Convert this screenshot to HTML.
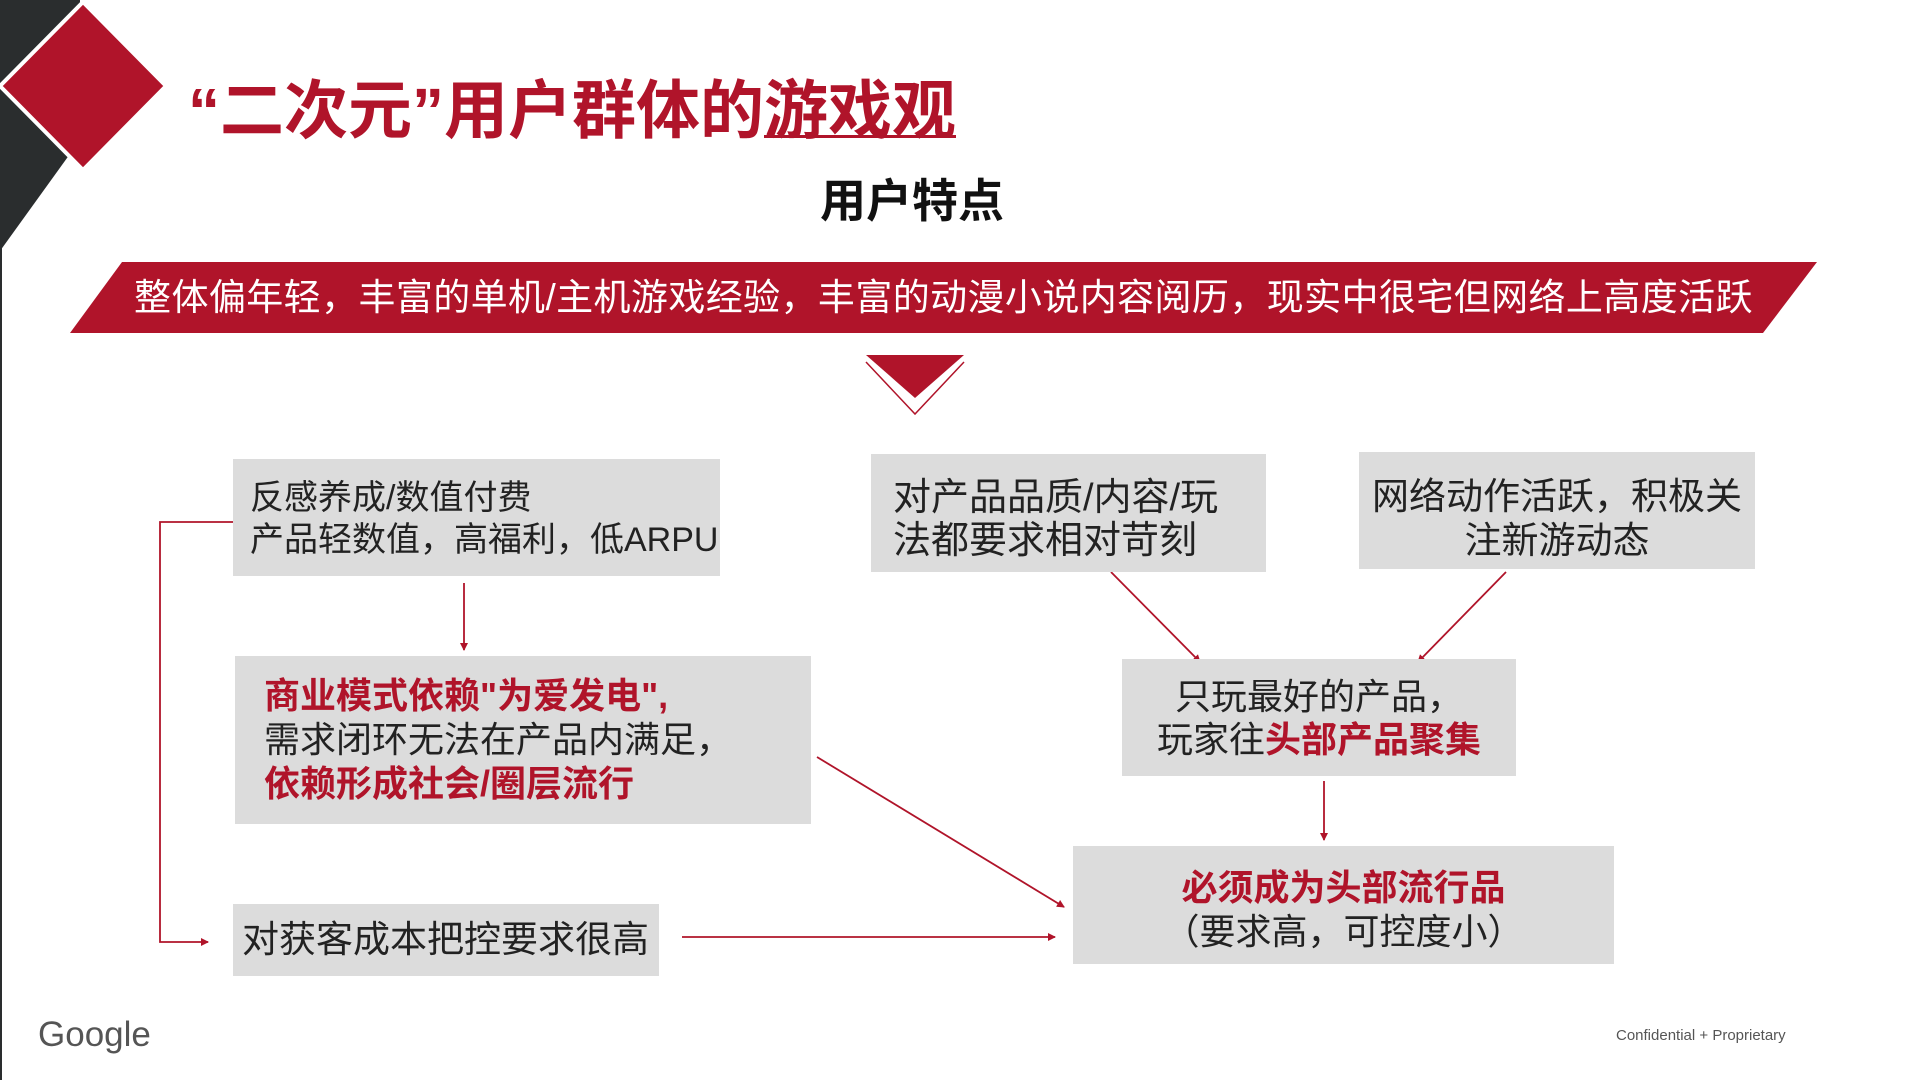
<!DOCTYPE html>
<html><head><meta charset="utf-8"><style>
html,body{margin:0;padding:0}
body{width:1920px;height:1080px;position:relative;overflow:hidden;background:#fff;font-family:"Liberation Sans","Noto Sans CJK SC",sans-serif}
.t{position:absolute;white-space:nowrap}
.box{position:absolute;background:#dcdcdc}
.r{color:#b0142a;font-weight:bold}
</style></head><body>
<svg width="1920" height="1080" style="position:absolute;left:0;top:0">
<defs><marker id="a" markerWidth="8" markerHeight="8" refX="7" refY="4" orient="auto" markerUnits="userSpaceOnUse"><path d="M0,0 L8,4 L0,8z" fill="#b0142a"/></marker></defs>
<rect x="0" y="0" width="2" height="1080" fill="#2a2d2e"/>
<polygon points="0,0 80,0 80,140 0,251" fill="#2a2d2e"/>
<polygon points="0,86 83,2 166,86 83,170" fill="#b0142a" stroke="#fff" stroke-width="4"/>
<polygon points="122,262 1817,262 1763,333 70,333" fill="#b0142a"/>
<polygon points="866,355 964,355 915,398" fill="#b0142a"/>
<polyline points="866,362 915,414 964,362" fill="none" stroke="#b0142a" stroke-width="1.5"/>
<g stroke="#b0142a" stroke-width="1.8" fill="none" marker-end="url(#a)">
<line x1="464" y1="583" x2="464" y2="650"/>
<line x1="1111" y1="572" x2="1200" y2="662"/>
<line x1="1506" y1="572" x2="1418" y2="662"/>
<line x1="1324" y1="781" x2="1324" y2="840"/>
<line x1="817" y1="757" x2="1064" y2="907"/>
<line x1="682" y1="937" x2="1055" y2="937"/>
<polyline points="233,522 160,522 160,942 208,942"/>
</g>
</svg>
<div class="t" style="left:188px;top:72px;font-size:64px;font-weight:bold;color:#b0142a;line-height:78px">“二次元”用户群体的<span style="text-decoration:underline;text-decoration-thickness:3px">游戏观</span></div>
<div class="t" style="left:820px;top:173px;font-size:46px;font-weight:bold;color:#111;line-height:56px">用户特点</div>
<div class="t" style="left:70px;width:1747px;text-align:center;top:275px;font-size:37px;letter-spacing:0.4px;color:#fff;line-height:46px">整体偏年轻，丰富的单机/主机游戏经验，丰富的动漫小说内容阅历，现实中很宅但网络上高度活跃</div>

<div class="box" style="left:233px;top:459px;width:487px;height:117px"></div>
<div class="t" style="left:250px;top:477px;font-size:34px;line-height:42px;color:#222">反感养成/数值付费<br>产品轻数值，高福利，低ARPU</div>

<div class="box" style="left:871px;top:454px;width:395px;height:118px"></div>
<div class="t" style="left:893px;top:477px;font-size:38px;line-height:43px;color:#222">对产品品质/内容/玩<br>法都要求相对苛刻</div>

<div class="box" style="left:1359px;top:452px;width:396px;height:117px"></div>
<div class="t" style="left:1359px;width:396px;text-align:center;top:475px;font-size:37px;line-height:44px;color:#222">网络动作活跃，积极关<br>注新游动态</div>

<div class="box" style="left:235px;top:656px;width:576px;height:168px"></div>
<div class="t" style="left:264px;top:674px;font-size:36px;line-height:44px;color:#222"><span class="r">商业模式依赖"为爱发电",</span><br>需求闭环无法在产品内满足，<br><span class="r">依赖形成社会/圈层流行</span></div>

<div class="box" style="left:1122px;top:659px;width:394px;height:117px"></div>
<div class="t" style="left:1122px;width:394px;text-align:center;top:675px;font-size:36px;line-height:43px;color:#222">只玩最好的产品，<br>玩家往<span class="r">头部产品聚集</span></div>

<div class="box" style="left:1073px;top:846px;width:541px;height:118px"></div>
<div class="t" style="left:1073px;width:541px;text-align:center;top:866px;font-size:36px;line-height:44px;color:#222"><span class="r">必须成为头部流行品</span><br>（要求高，可控度小）</div>

<div class="box" style="left:233px;top:904px;width:426px;height:72px"></div>
<div class="t" style="left:242px;top:918px;font-size:37px;line-height:44px;color:#222">对获客成本把控要求很高</div>

<div class="t" style="left:38px;top:1013px;font-size:35px;color:#555;line-height:44px">Google</div>
<div class="t" style="left:1616px;top:1027px;font-size:15px;color:#555;line-height:18px">Confidential + Proprietary</div>
</body></html>
